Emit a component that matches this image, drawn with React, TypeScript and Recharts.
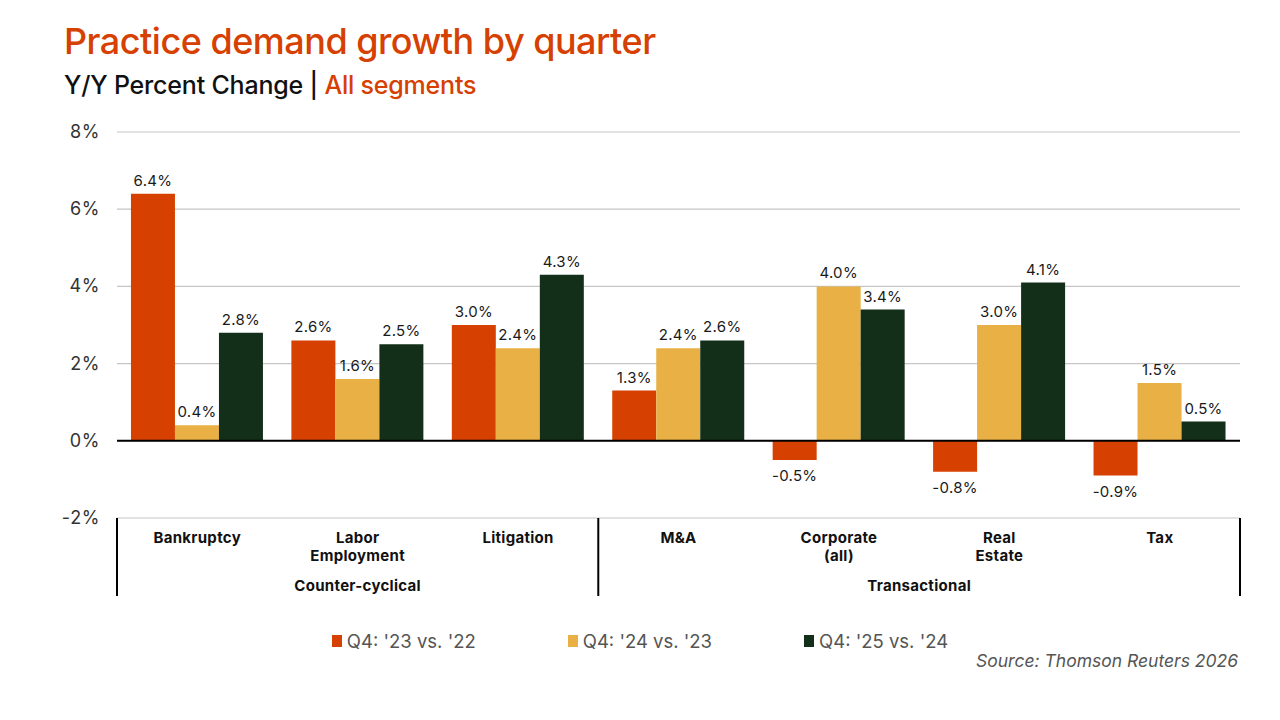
import { Bar, BarChart, CartesianGrid, LabelList, Legend, ReferenceLine, XAxis, YAxis } from 'recharts';

const practices = ['Bankruptcy', 'Labor\nEmployment', 'Litigation', 'M&A', 'Corporate\n(all)', 'Real\nEstate', 'Tax'];
const q4of23 = [6.4, 2.6, 3.0, 1.3, -0.5, -0.8, -0.9];
const q4of24 = [0.4, 1.6, 2.4, 2.4, 4.0, 3.0, 1.5];
const q4of25 = [2.8, 2.5, 4.3, 2.6, 3.4, 4.1, 0.5];
const seriesNames = ["Q4: '23 vs. '22", "Q4: '24 vs. '23", "Q4: '25 vs. '24"];
const segments = [
  { name: 'Counter-cyclical', first: 0, last: 2 },
  { name: 'Transactional', first: 3, last: 6 },
];
const yTicks = [-2, 0, 2, 4, 6, 8];

const ORANGE = '#d64000';
const colors = ['#d64000', '#e8b045', '#132f19'];
const font = 'Inter, "Noto Sans", sans-serif';

const data = practices.map((practice, i) => ({
  practice,
  a: q4of23[i],
  b: q4of24[i],
  c: q4of25[i],
}));

function ValueLabel(props: any) {
  const { x, y, width, height, value } = props;
  const top = Math.min(y, y + height);
  const bottom = Math.max(y, y + height);
  const neg = value < 0;
  return (
    <text
      x={x + width / 2}
      y={neg ? bottom + 21 : top - 8}
      textAnchor="middle"
      fontFamily={font}
      fontSize={15}
      letterSpacing={0.3}
      fill="#1a1a1a"
    >
      {value.toFixed(1)}%
    </text>
  );
}

function PracticeTick(props: any) {
  const { x, y, payload, index } = props;
  const half = payload.offset || 80.2;
  const lines = String(payload.value).split('\n');
  const seg = segments.find((s) => s.first <= index && index <= s.last);
  const segCenter = seg ? (seg.first + seg.last) / 2 : -1;
  const textProps = {
    textAnchor: 'middle' as const,
    fontFamily: font,
    fontSize: 15,
    fontWeight: 700,
    letterSpacing: 0.3,
    fill: '#111',
  };
  return (
    <g>
      {lines.map((line, i) => (
        <text key={i} x={x} y={y + 25 + i * 18} {...textProps}>
          {line}
        </text>
      ))}
      {seg && Math.abs(index - segCenter) < 0.01 && (
        <text x={x} y={y + 73} {...textProps}>
          {seg.name}
        </text>
      )}
      {seg && Math.abs(index + 0.5 - segCenter) < 0.01 && (
        <text x={x + half} y={y + 73} {...textProps}>
          {seg.name}
        </text>
      )}
      {seg && index === seg.first && <line x1={x - half} x2={x - half} y1={y} y2={y + 78} stroke="#000" strokeWidth={2} />}
      {index === practices.length - 1 && <line x1={x + half} x2={x + half} y1={y} y2={y + 78} stroke="#000" strokeWidth={2} />}
    </g>
  );
}

function PercentTick(props: any) {
  const { x, y, payload } = props;
  return (
    <text x={x} y={y} dy={6} textAnchor="end" fontFamily={font} fontSize={18} letterSpacing={0.6} fill="#333">
      {payload.value}%
    </text>
  );
}

function LegendRow(props: any) {
  const items = props.payload || [];
  return (
    <div style={{ display: 'flex', justifyContent: 'center', gap: 92, fontFamily: font, fontSize: 18.5, color: '#555' }}>
      {items.map((item: any) => (
        <div key={item.value} style={{ display: 'flex', alignItems: 'center', gap: 5 }}>
          <span style={{ width: 10, height: 12, background: item.color, display: 'inline-block' }} />
          <span>{item.value}</span>
        </div>
      ))}
    </div>
  );
}

export default function App() {
  return (
    <div style={{ position: 'absolute', left: 0, top: 0, width: 1280, height: 720, background: '#fff' }}>
      <div
        style={{
          position: 'absolute',
          left: 64,
          top: 19,
          fontFamily: font,
          fontSize: 36,
          fontWeight: 500,
          color: ORANGE,
          letterSpacing: -0.5,
        }}
      >
        Practice demand growth by quarter
      </div>
      <div
        style={{
          position: 'absolute',
          left: 64,
          top: 70,
          fontFamily: font,
          fontSize: 25,
          fontWeight: 500,
          color: '#111',
          letterSpacing: -0.2,
        }}
      >
        Y/Y Percent Change | <span style={{ color: ORANGE }}>All segments</span>
      </div>
      <BarChart
        width={1280}
        height={720}
        data={data}
        margin={{ top: 132, right: 40, bottom: 122, left: 57 }}
        barCategoryGap="8.7%"
        barGap={0}
      >
        <CartesianGrid vertical={false} stroke="#c6c6c6" strokeWidth={1.2} />
        <XAxis
          dataKey="practice"
          interval={0}
          axisLine={false}
          tickLine={false}
          tickSize={0}
          tickMargin={0}
          height={80}
          tick={<PracticeTick />}
        />
        <YAxis
          domain={[-2, 8]}
          ticks={yTicks}
          width={60}
          axisLine={false}
          tickLine={false}
          tickSize={0}
          tickMargin={17}
          tick={<PercentTick />}
        />
        <ReferenceLine y={0} stroke="#000" strokeWidth={2} />
        <Legend
          verticalAlign="middle"
          align="center"
          content={<LegendRow />}
          wrapperStyle={{ top: 630, left: 0, width: 1280 }}
        />
        <Bar dataKey="a" name={seriesNames[0]} fill={colors[0]} isAnimationActive={false}>
          <LabelList dataKey="a" content={<ValueLabel />} />
        </Bar>
        <Bar dataKey="b" name={seriesNames[1]} fill={colors[1]} isAnimationActive={false}>
          <LabelList dataKey="b" content={<ValueLabel />} />
        </Bar>
        <Bar dataKey="c" name={seriesNames[2]} fill={colors[2]} isAnimationActive={false}>
          <LabelList dataKey="c" content={<ValueLabel />} />
        </Bar>
      </BarChart>
      <div
        style={{
          position: 'absolute',
          right: 42,
          top: 650,
          fontFamily: font,
          fontSize: 17.5,
          fontStyle: 'italic',
          color: '#555',
        }}
      >
        Source: Thomson Reuters 2026
      </div>
    </div>
  );
}
